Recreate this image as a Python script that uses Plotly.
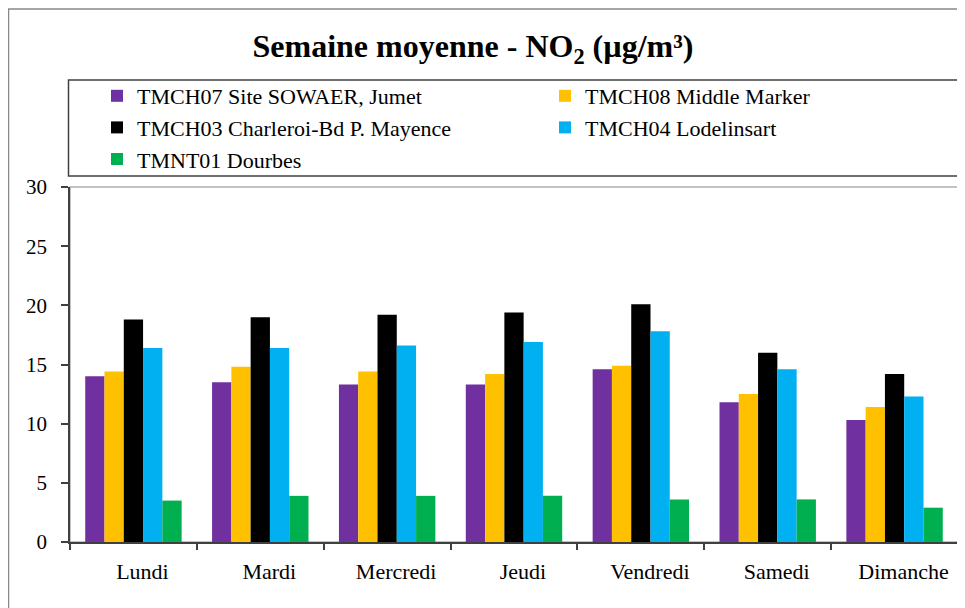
import plotly.graph_objects as go

days = ["Lundi", "Mardi", "Mercredi", "Jeudi", "Vendredi", "Samedi", "Dimanche"]
tmch07 = [14.0, 13.5, 13.3, 13.3, 14.6, 11.8, 10.3]
tmch08 = [14.4, 14.8, 14.4, 14.2, 14.9, 12.5, 11.4]
tmch03 = [18.8, 19.0, 19.2, 19.4, 20.1, 16.0, 14.2]
tmch04 = [16.4, 16.4, 16.6, 16.9, 17.8, 14.6, 12.3]
tmnt01 = [3.5, 3.9, 3.9, 3.9, 3.6, 3.6, 2.9]

series = [
    ("TMCH07 Site SOWAER, Jumet", tmch07, "#7030A0", "legend"),
    ("TMCH08 Middle Marker", tmch08, "#FFC000", "legend2"),
    ("TMCH03 Charleroi-Bd P. Mayence", tmch03, "#000000", "legend"),
    ("TMCH04 Lodelinsart", tmch04, "#00B0F0", "legend2"),
    ("TMNT01 Dourbes", tmnt01, "#00B050", "legend"),
]

FONT = "Liberation Serif"
# page body has an 8px default margin; the figure is sized to fill the rest
OX, OY = 8, 8
W, H = 965 - OX, 608 - OY
L, R, T, B = 70 - OX, 7, 187 - OY, 66
PW, PH = W - L - R, H - T - B


def px_x(p):
    """reference screen pixel x -> paper x"""
    return (p - OX - L) / PW


def px_y(p):
    """reference screen pixel y -> paper y"""
    return (H - B - (p - OY)) / PH


fig = go.Figure()
for name, vals, color, lg in series:
    fig.add_trace(go.Bar(
        x=days, y=vals, name=name, legend=lg,
        marker=dict(color=color, line=dict(width=0)),
    ))

shapes = [
    # outer chart border
    dict(type="rect", xref="paper", yref="paper",
         x0=px_x(8.5), x1=px_x(990), y0=px_y(630), y1=px_y(9),
         line=dict(color="#888888", width=1.5), layer="below"),
    # legend box
    dict(type="rect", xref="paper", yref="paper",
         x0=px_x(68.5), x1=px_x(959), y0=px_y(176), y1=px_y(80),
         line=dict(color="#404040", width=1.5), layer="below"),
    # plot area frame
    dict(type="rect", xref="paper", yref="paper",
         x0=0, x1=1, y0=0, y1=1,
         line=dict(color="#B0B0B0", width=1.5), layer="below"),
]

legend_common = dict(
    orientation="v", xanchor="left", yanchor="top",
    bgcolor="rgba(0,0,0,0)", borderwidth=0,
    font=dict(family=FONT, size=22, color="#000000"),
    itemclick=False, itemdoubleclick=False,
)

fig.update_layout(
    width=W, height=H,
    margin=dict(l=L, r=R, t=T, b=B, pad=0),
    paper_bgcolor="white", plot_bgcolor="white",
    barmode="group", bargap=0.24, bargroupgap=0,
    title=dict(
        text="<b>Semaine moyenne - NO<sub>2</sub> (µg/m³)</b>",
        font=dict(family=FONT, size=32, color="#000000"),
        x=(473 - OX) / W, xanchor="center", xref="container",
        y=1 - (46 - OY) / H, yanchor="middle", yref="container",
    ),
    legend=dict(x=px_x(97), y=px_y(75), **legend_common),
    legend2=dict(x=px_x(545), y=px_y(75), **legend_common),
    shapes=shapes,
    xaxis=dict(
        type="category", tickson="boundaries", ticks="outside", ticklen=6,
        tickcolor="#404040", tickwidth=1.5,
        showline=True, linecolor="#404040", linewidth=1.5,
        showgrid=False, zeroline=False,
        tickfont=dict(family=FONT, size=22, color="#000000"),
        ticklabelstandoff=9, ticklabelshift=9,
    ),
    yaxis=dict(
        range=[0, 30], dtick=5, tick0=0, ticks="outside", ticklen=7,
        tickcolor="#404040", tickwidth=1.5,
        showline=True, linecolor="#404040", linewidth=1.5,
        showgrid=False, zeroline=False,
        tickfont=dict(family=FONT, size=21, color="#000000"),
        ticklabelstandoff=10,
    ),
)

fig.write_html("out.html", config={"displayModeBar": False})
